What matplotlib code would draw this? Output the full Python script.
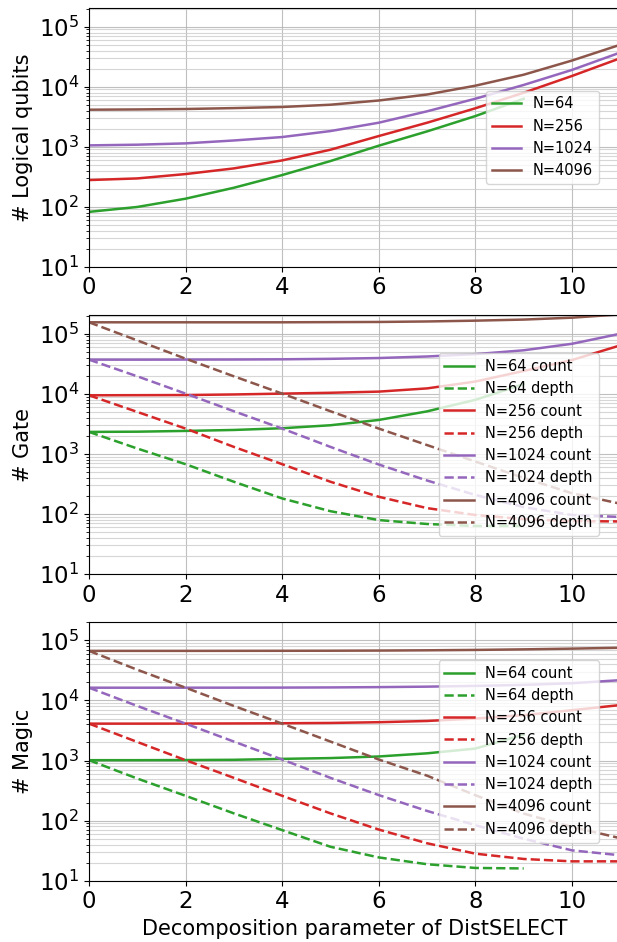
import matplotlib
matplotlib.use("Agg")
import matplotlib.pyplot as plt

# ---------------- data ----------------
k_small = [0, 1, 2, 3, 4, 5, 6, 7, 8, 9]
k_full = [0, 1, 2, 3, 4, 5, 6, 7, 8, 9, 10, 11]
Ns = [64, 256, 1024, 4096]
colors = ["#2ca02c", "#d62728", "#9467bd", "#8c564b"]

# Logical qubits
q64 = [82, 99, 136, 207, 337, 577, 1040, 1800, 3240, 6300]
q256 = [278, 296, 350, 435, 591, 891, 1506, 2510, 4370, 7940, 15100, 29850]
q1024 = [1052, 1080, 1136, 1270, 1449, 1823, 2512, 3890, 6310, 10700, 19050, 37150]
q4096 = [4136, 4180, 4250, 4400, 4590, 5010, 5890, 7410, 10400, 15850, 27300, 50100]

# Gate count / depth
gc64 = [2320, 2340, 2410, 2500, 2670, 2995, 3670, 5100, 7940, 14500]
gd64 = [2320, 1227, 673, 343, 181, 111, 79, 68, 63, 63]
gc256 = [9440, 9480, 9530, 9750, 10070, 10400, 10870, 12300, 16000, 24000, 36500, 64000]
gd256 = [9440, 4990, 2636, 1305, 673, 343, 193, 125, 96, 82, 76, 75]
gc1024 = [37000, 37000, 37100, 37200, 37500, 38200, 39400, 41800, 45700, 53000, 68000, 100000]
gd1024 = [37000, 19540, 10070, 5120, 2636, 1305, 665, 360, 207, 130, 96, 89]
gc4096 = [155000, 155000, 155000, 155000, 155000, 156000, 157000, 160000, 165000, 172000, 185000, 210000]
gd4096 = [155000, 77400, 38400, 19540, 10070, 5120, 2636, 1400, 745, 398, 221, 148]

# Magic count / depth
mc64 = [1015, 1015, 1020, 1030, 1067, 1100, 1170, 1320, 1585, 2700]
md64 = [1015, 502, 259, 132, 69.5, 36.7, 24.4, 18.8, 16.3, 16]
mc256 = [4120, 4120, 4130, 4150, 4180, 4230, 4350, 4560, 5010, 5700, 6900, 8400]
md256 = [4120, 2040, 1015, 515, 259, 132, 71, 42, 28.2, 23, 21, 21]
mc1024 = [16330, 16330, 16340, 16360, 16400, 16500, 16700, 17000, 17500, 18200, 19400, 21800]
md1024 = [16330, 8110, 4120, 2070, 1040, 515, 266, 145, 84, 50, 32, 26.5]
mc4096 = [67000, 67000, 67000, 67100, 67200, 67400, 67800, 68500, 69500, 71000, 73000, 75500]
md4096 = [67000, 32500, 16330, 8110, 4120, 2070, 1040, 560, 265, 131, 78.5, 51]

qubits = [q64, q256, q1024, q4096]
gate_count = [gc64, gc256, gc1024, gc4096]
gate_depth = [gd64, gd256, gd1024, gd4096]
magic_count = [mc64, mc256, mc1024, mc4096]
magic_depth = [md64, md256, md1024, md4096]

ylabels = ["# Logical qubits", "# Gate", "# Magic"]
xlabel = "Decomposition parameter of DistSELECT"

# ---------------- figure ----------------
fig = plt.figure(figsize=(6.17, 9.42), dpi=100)
W, H = 617.0, 942.0
left_px = 89.0
unit_px = 48.3
right_px = left_px + 11 * unit_px  # x = 11, just beyond the visible figure
panels_px = [(8.0, 266.7), (315.0, 574.0), (621.7, 880.7)]

axes = []
for (top, bot) in panels_px:
    ax = fig.add_axes([left_px / W, 1 - bot / H, (right_px - left_px) / W, (bot - top) / H])
    axes.append(ax)

lw = 1.8

def xs_for(series):
    return k_small if len(series) == len(k_small) else k_full

ax = axes[0]
for N, c, s in zip(Ns, colors, qubits):
    ax.plot(xs_for(s), s, color=c, lw=lw, label=f"N={N}")

for ax, cnt, dep in [(axes[1], gate_count, gate_depth), (axes[2], magic_count, magic_depth)]:
    for N, c, sc, sd in zip(Ns, colors, cnt, dep):
        ax.plot(xs_for(sc), sc, color=c, lw=lw, label=f"N={N} count")
        ax.plot(xs_for(sd), sd, color=c, lw=lw, ls="--", label=f"N={N} depth")

legend_x = (598.5 - left_px) / (right_px - left_px)
for ax, yl in zip(axes, ylabels):
    ax.set_yscale("log")
    ax.set_ylim(10, 2.05e5)
    ax.set_xlim(0, 11)
    ax.set_xticks([0, 2, 4, 6, 8, 10])
    ax.tick_params(axis="both", which="major", labelsize=16.5)
    ax.grid(True, which="major", color="#b0b0b0", lw=0.8, alpha=0.8)
    ax.grid(True, which="minor", axis="y", color="#cccccc", lw=0.8, alpha=0.8)
    ax.set_ylabel(yl, fontsize=15)
    ax.spines["right"].set_visible(False)
    ax.legend(loc="center right", bbox_to_anchor=(legend_x, 0.5), borderaxespad=0,
              fontsize=10.5, framealpha=0.8)

axes[2].set_xlabel(xlabel, fontsize=15)

fig.savefig("out.png", dpi=100)
